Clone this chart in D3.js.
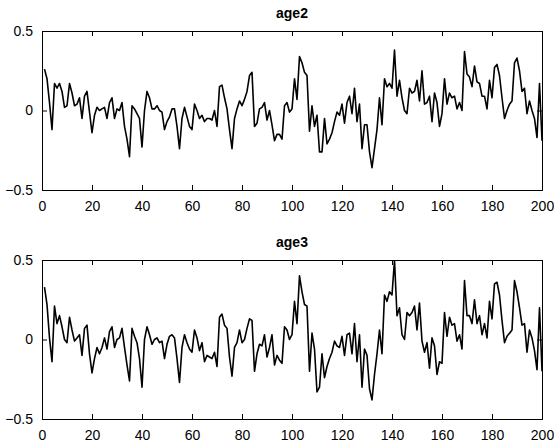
<!DOCTYPE html>
<html lang="en">
<head>
<meta charset="utf-8">
<title>age2 / age3</title>
<script src="https://cdn.jsdelivr.net/npm/d3@7"></script>
<style>
  body { margin: 0; background: #fff; }
  svg text { font-family: "Liberation Sans", Arial, sans-serif; }
</style>
</head>
<body>
<div id="chart"></div>
<script>
// series values (x = 1..200)
var age2 = [
  0.26, 0.20, 0.05, -0.12, 0.17, 0.14, 0.17, 0.12, 0.02, 0.03,
  0.17, 0.11, 0.03, 0.04, 0.08, -0.05, 0.09, 0.12, -0.01, -0.14,
  -0.03, 0.02, 0.00, 0.01, 0.02, -0.05, 0.05, 0.08, -0.05, 0.01,
  0.00, 0.05, -0.10, -0.18, -0.29, 0.03, 0.01, -0.02, -0.05, -0.23,
  0.00, 0.12, 0.08, 0.01, 0.01, 0.03, 0.00, -0.01, -0.12, -0.07,
  -0.04, 0.01, 0.01, -0.10, -0.24, -0.05, 0.02, -0.04, -0.10, -0.12,
  0.04, 0.00, -0.05, -0.03, -0.07, -0.05, -0.05, -0.06, 0.00, -0.10,
  0.15, 0.16, 0.08, 0.01, -0.12, -0.24, -0.05, 0.01, 0.06, 0.03,
  0.07, 0.12, 0.22, 0.24, -0.10, -0.08, 0.01, 0.02, 0.05, -0.06,
  0.00, -0.09, -0.19, -0.15, -0.15, -0.18, 0.03, 0.05, -0.01, 0.01,
  0.20, 0.07, 0.34, 0.30, 0.24, 0.22, -0.13, 0.03, -0.10, -0.03,
  -0.26, -0.26, -0.05, -0.21, -0.18, -0.14, -0.07, -0.01, -0.03, 0.04,
  -0.08, 0.05, 0.09, -0.02, 0.14, -0.07, 0.04, -0.24, -0.09, -0.09,
  -0.26, -0.36, -0.24, -0.12, 0.08, -0.09, 0.20, 0.15, 0.17, 0.14,
  0.38, 0.09, 0.19, 0.08, 0.00, -0.02, 0.14, 0.11, 0.12, 0.19,
  0.06, 0.25, 0.04, 0.05, 0.09, -0.07, 0.11, 0.05, -0.10, -0.02,
  0.20, 0.04, 0.11, 0.08, 0.09, 0.01, 0.05, 0.00, 0.37, 0.23,
  0.21, 0.15, 0.28, 0.18, 0.17, 0.09, 0.09, 0.01, 0.19, 0.08,
  0.27, 0.29, 0.22, 0.08, -0.05, 0.00, 0.04, 0.06, 0.30, 0.33,
  0.25, 0.12, 0.14, -0.02, 0.06, 0.00, -0.05, -0.17, 0.17, -0.19
];
var age3 = [
  0.33, 0.22, 0.01, -0.14, 0.21, 0.10, 0.15, 0.08, 0.00, -0.02,
  0.14, 0.06, -0.01, 0.01, 0.03, -0.10, 0.07, 0.09, -0.09, -0.21,
  -0.12, -0.05, -0.09, -0.05, 0.01, -0.06, 0.05, 0.08, -0.05, 0.00,
  0.01, 0.07, -0.05, -0.16, -0.26, 0.07, 0.02, -0.02, -0.12, -0.30,
  0.00, 0.08, 0.03, -0.03, 0.00, 0.01, -0.02, -0.01, -0.12, -0.03,
  0.02, 0.03, 0.01, -0.12, -0.27, -0.05, 0.03, -0.02, -0.06, -0.08,
  0.06, 0.01, -0.07, -0.02, -0.14, -0.10, -0.11, -0.12, -0.08, -0.17,
  0.14, 0.16, 0.09, 0.07, -0.11, -0.23, -0.05, -0.02, 0.06, -0.02,
  0.00, 0.07, 0.13, 0.12, -0.20, -0.09, -0.03, -0.04, 0.03, -0.11,
  -0.05, 0.03, -0.16, -0.10, -0.13, -0.15, 0.08, 0.06, 0.00, 0.03,
  0.24, 0.10, 0.40, 0.30, 0.22, 0.21, -0.20, 0.04, -0.06, -0.33,
  -0.30, -0.09, -0.24, -0.17, -0.12, -0.08, -0.01, -0.04, -0.05, 0.02,
  -0.10, 0.03, 0.04, -0.09, 0.10, -0.14, 0.03, -0.30, -0.06, -0.10,
  -0.31, -0.38, -0.22, -0.09, 0.06, -0.09, 0.28, 0.24, 0.30, 0.28,
  0.50, 0.15, 0.20, 0.03, 0.00, 0.17, 0.15, 0.17, 0.21, 0.06,
  0.23, -0.01, -0.08, -0.02, -0.18, 0.01, -0.04, -0.22, -0.14, -0.15,
  0.17, 0.02, 0.14, 0.09, 0.10, -0.01, 0.03, -0.06, 0.37, 0.15,
  0.15, 0.10, 0.25, 0.10, 0.15, 0.03, 0.10, 0.01, 0.24, 0.13,
  0.35, 0.36, 0.28, 0.12, -0.02, 0.02, 0.04, 0.06, 0.37, 0.30,
  0.20, 0.09, 0.10, -0.08, 0.06, 0.01, -0.07, -0.19, 0.20, -0.20
];
var titles = ["age2", "age3"];
var xTicks = [0, 20, 40, 60, 80, 100, 120, 140, 160, 180, 200];
var yTicks = [-0.5, 0, 0.5];

var W = 554, H = 447;
var left = 42, right = 542;
var panelTops = [31, 260];
var panelH = 159;

var svg = d3.select("#chart")
  .append("svg")
    .attr("width", W)
    .attr("height", H);

var x = d3.scaleLinear().domain([0, 200]).range([left, right]);

[age2, age3].forEach(function(series, i) {
  var top = panelTops[i];
  var y = d3.scaleLinear().domain([-0.5, 0.5]).range([top + panelH, top]);
  var g = svg.append("g");

  // clip to the axes box
  g.append("clipPath")
    .attr("id", "clip" + i)
    .append("rect")
      .attr("x", left).attr("y", top)
      .attr("width", right - left).attr("height", panelH);

  // line
  var line = d3.line()
    .x(function(d, k) { return x(k + 1); })
    .y(function(d) { return y(d); });
  g.append("path")
    .datum(series)
    .attr("clip-path", "url(#clip" + i + ")")
    .attr("fill", "none")
    .attr("stroke", "#000")
    .attr("stroke-width", 1.6)
    .attr("stroke-linejoin", "round")
    .attr("d", line);

  // axes, matlab style: ticks pointing in, on all four sides
  g.append("g")
    .attr("transform", "translate(0," + (top + panelH) + ")")
    .call(d3.axisBottom(x).tickValues(xTicks).tickSize(-5).tickPadding(11).tickFormat(d3.format("d")));
  g.append("g")
    .attr("transform", "translate(0," + top + ")")
    .call(d3.axisTop(x).tickValues(xTicks).tickSize(-5).tickFormat(""));
  g.append("g")
    .attr("transform", "translate(" + left + ",0)")
    .call(d3.axisLeft(y).tickValues(yTicks).tickSize(-5).tickPadding(9).tickFormat(function(d) { return d === 0 ? "0" : d3.format(".1f")(d); }));
  g.append("g")
    .attr("transform", "translate(" + right + ",0)")
    .call(d3.axisRight(y).tickValues(yTicks).tickSize(-5).tickFormat(""));

  g.selectAll(".domain").attr("stroke", "#000").attr("stroke-width", 1);
  g.selectAll(".tick line").attr("stroke", "#000");
  g.selectAll(".tick text")
    .attr("fill", "#000")
    .style("font-size", "14px");

  // title
  g.append("text")
    .attr("x", (left + right) / 2)
    .attr("y", top - 13)
    .attr("text-anchor", "middle")
    .style("font-size", "14px")
    .style("font-weight", "bold")
    .text(titles[i]);
});
</script>
</body>
</html>
